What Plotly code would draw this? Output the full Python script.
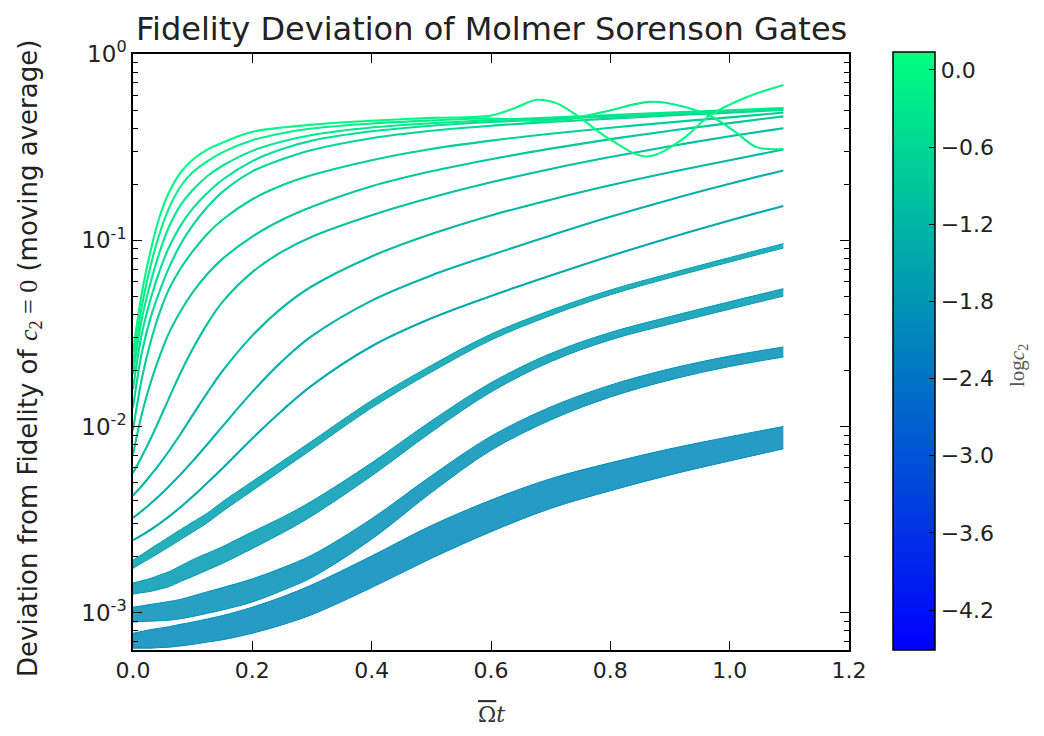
import plotly.graph_objects as go
from plotly.colors import sample_colorscale

# ---------------- data ----------------
# x positions (Omega-bar t) shared by the curves
omega_t = [0, 0.015, 0.03, 0.045, 0.06, 0.08, 0.1, 0.125, 0.15, 0.2, 0.25, 0.3,
           0.4, 0.5, 0.6, 0.7, 0.8, 0.9, 1.0, 1.09]

# colour value of each curve (log c2), bottom curve first
log_c2 = [-2.0, -1.857, -1.714, -1.571, -1.429, -1.286, -1.143, -1.0,
          -0.857, -0.714, -0.571, -0.429, -0.286, -0.143, 0.0]

# log10 of the deviation for each curve on omega_t
dev_c1 = [-3.15, -3.145, -3.14, -3.135, -3.13, -3.12, -3.11, -3.095, -3.08, -3.04, -2.99, -2.93, -2.78, -2.62, -2.48, -2.36, -2.27, -2.19, -2.12, -2.06]
dev_c2 = [-3.01, -3.005, -3.00, -2.995, -2.99, -2.98, -2.965, -2.945, -2.925, -2.88, -2.82, -2.75, -2.55, -2.31, -2.09, -1.93, -1.81, -1.72, -1.65, -1.60]
dev_c3 = [-2.87, -2.86, -2.85, -2.835, -2.82, -2.79, -2.76, -2.725, -2.69, -2.61, -2.53, -2.44, -2.23, -2.00, -1.79, -1.63, -1.515, -1.43, -1.35, -1.28]
dev_c4 = [-2.74, -2.71, -2.68, -2.65, -2.62, -2.58, -2.54, -2.49, -2.43, -2.32, -2.21, -2.10, -1.88, -1.69, -1.52, -1.39, -1.28, -1.19, -1.105, -1.03]
dev_c5 = [-2.61, -2.583, -2.553, -2.52, -2.484, -2.432, -2.376, -2.301, -2.224, -2.064, -1.914, -1.779, -1.569, -1.419, -1.299, -1.189, -1.084, -0.986, -0.894, -0.816]
dev_c6 = [-2.49, -2.453, -2.412, -2.369, -2.322, -2.256, -2.186, -2.094, -1.999, -1.814, -1.649, -1.514, -1.324, -1.189, -1.079, -0.974, -0.874, -0.782, -0.697, -0.625]
dev_c7 = [-2.37, -2.318, -2.26, -2.199, -2.133, -2.039, -1.939, -1.817, -1.702, -1.512, -1.362, -1.247, -1.087, -0.967, -0.867, -0.782, -0.705, -0.635, -0.57, -0.513]
dev_c8 = [-2.25, -2.16, -2.063, -1.958, -1.85, -1.71, -1.584, -1.446, -1.331, -1.171, -1.061, -0.981, -0.866, -0.771, -0.689, -0.617, -0.553, -0.495, -0.442, -0.399]
dev_c9 = [-2.15, -1.93, -1.76, -1.62, -1.50, -1.38, -1.28, -1.18, -1.10, -0.98, -0.89, -0.82, -0.71, -0.63, -0.565, -0.508, -0.457, -0.412, -0.371, -0.335]
dev_c10 = [-2.02, -1.74, -1.54, -1.385, -1.265, -1.15, -1.06, -0.965, -0.89, -0.78, -0.705, -0.65, -0.57, -0.51, -0.465, -0.428, -0.396, -0.367, -0.34, -0.315]
dev_c11 = [-1.90, -1.60, -1.41, -1.27, -1.15, -1.02, -0.92, -0.82, -0.74, -0.63, -0.565, -0.515, -0.452, -0.412, -0.385, -0.365, -0.347, -0.33, -0.315, -0.30]
dev_c12 = [-1.80, -1.50, -1.31, -1.16, -1.04, -0.92, -0.83, -0.745, -0.675, -0.575, -0.51, -0.465, -0.415, -0.385, -0.365, -0.35, -0.336, -0.322, -0.309, -0.296]
dev_c13 = [-1.72, -1.42, -1.22, -1.06, -0.93, -0.81, -0.73, -0.655, -0.60, -0.52, -0.47, -0.435, -0.395, -0.372, -0.355, -0.341, -0.328, -0.315, -0.302, -0.29]

# the two oscillating top curves: same samples up to 0.6, then their own
omega_t_c14 = omega_t[:15] + [0.68, 0.73, 0.79, 0.866, 0.92, 0.97, 1.01, 1.045, 1.09]
dev_c14 = [-1.66, -1.35, -1.13, -0.96, -0.83, -0.71, -0.635, -0.575, -0.528, -0.463, -0.425, -0.40, -0.373, -0.357, -0.346,
           -0.36, -0.35, -0.31, -0.257, -0.28, -0.337, -0.42, -0.50, -0.51]
omega_t_c15 = omega_t[:15] + [0.64, 0.677, 0.71, 0.744, 0.8, 0.861, 0.92, 0.967, 1.03, 1.09]
dev_c15 = [-1.60, -1.28, -1.05, -0.87, -0.745, -0.635, -0.568, -0.512, -0.476, -0.418, -0.395, -0.379, -0.358, -0.343, -0.33,
           -0.29, -0.246, -0.265, -0.33, -0.46, -0.55, -0.46, -0.33, -0.23, -0.166]

# half-width (decades) of the fast-oscillation band of the lowest curves
band_c1 = [0.04, 0.045, 0.05, 0.052, 0.055, 0.058, 0.06, 0.062, 0.065, 0.07, 0.075, 0.08, 0.085, 0.088, 0.085, 0.08, 0.075, 0.07, 0.065, 0.06]
band_c2 = [0.04, 0.042, 0.045, 0.048, 0.05, 0.052, 0.055, 0.058, 0.06, 0.062, 0.061, 0.06, 0.055, 0.045, 0.038, 0.035, 0.032, 0.03, 0.028, 0.027]
band_c3 = [0.03, 0.032, 0.035, 0.038, 0.04, 0.042, 0.045, 0.045, 0.045, 0.045, 0.042, 0.04, 0.035, 0.03, 0.025, 0.022, 0.02, 0.02, 0.02, 0.02]
band_c4 = [0.022, 0.023, 0.025, 0.026, 0.027, 0.027, 0.027, 0.026, 0.026, 0.025, 0.023, 0.022, 0.02, 0.018, 0.016, 0.014, 0.013, 0.012, 0.012, 0.012]

cbar_ticks = [0.0, -0.6, -1.2, -1.8, -2.4, -3.0, -3.6, -4.2]
x_ticks = [0.0, 0.2, 0.4, 0.6, 0.8, 1.0, 1.2]
y_ticks = [1, 0.1, 0.01, 0.001]
y_tick_text = ["10<sup>0</sup>", "10<sup>-1</sup>", "10<sup>-2</sup>", "10<sup>-3</sup>"]

# ---------------- figure ----------------
WINTER = [[0.0, "rgb(0,0,255)"], [1.0, "rgb(0,255,128)"]]
CMIN, CMAX = -4.51, 0.14

curves = [
    (omega_t, dev_c1, band_c1), (omega_t, dev_c2, band_c2), (omega_t, dev_c3, band_c3),
    (omega_t, dev_c4, band_c4), (omega_t, dev_c5, None), (omega_t, dev_c6, None),
    (omega_t, dev_c7, None), (omega_t, dev_c8, None), (omega_t, dev_c9, None),
    (omega_t, dev_c10, None), (omega_t, dev_c11, None), (omega_t, dev_c12, None),
    (omega_t, dev_c13, None), (omega_t_c14, dev_c14, None), (omega_t_c15, dev_c15, None),
]

fig = go.Figure()
for (xs, ls, band), c in zip(curves, log_c2):
    col = sample_colorscale(WINTER, [(c - CMIN) / (CMAX - CMIN)])[0]
    if band is not None:
        hi = [10 ** (l + b) for l, b in zip(ls, band)]
        lo = [10 ** (l - b) for l, b in zip(ls, band)]
        fig.add_trace(go.Scatter(x=xs, y=hi, mode="lines", line=dict(color=col, width=1, shape="spline"),
                                 showlegend=False, hoverinfo="skip"))
        fig.add_trace(go.Scatter(x=xs, y=lo, mode="lines", line=dict(color=col, width=1, shape="spline"),
                                 fill="tonexty", fillcolor=col.replace("rgb", "rgba").replace(")", ",0.85)"),
                                 showlegend=False, hoverinfo="skip"))
    else:
        fig.add_trace(go.Scatter(x=xs, y=[10 ** l for l in ls], mode="lines",
                                 line=dict(color=col, width=2.1, shape="spline", smoothing=1.0),
                                 showlegend=False))

# colour bar
fig.add_trace(go.Scatter(
    x=[None], y=[None], mode="markers", showlegend=False,
    marker=dict(color=[0], colorscale=WINTER, cmin=CMIN, cmax=CMAX, showscale=True,
                colorbar=dict(x=1.0615, xanchor="left", xpad=0, y=0.5017, yanchor="middle", ypad=0,
                              lenmode="pixels", len=598, thicknessmode="pixels", thickness=42,
                              outlinewidth=1.5, outlinecolor="black",
                              tickvals=cbar_ticks,
                              ticktext=[f"{v:.1f}".replace("-", "−") for v in cbar_ticks],
                              ticks="inside", ticklen=6, tickcolor="black",
                              tickfont=dict(family="DejaVu Sans", size=22, color="#222"))),
))

AX = dict(showline=True, linecolor="black", linewidth=1.5, mirror="ticks", ticks="inside",
          ticklen=9, tickwidth=1, tickcolor="black", showgrid=False, zeroline=False)

fig.update_xaxes(range=[0, 1.2], tickvals=x_ticks, ticktext=[f"{v:.1f}" for v in x_ticks],
                 tickfont=dict(family="DejaVu Sans", size=22, color="#222"), **AX)
minor_vals = [m * 10 ** e for e in (-4, -3, -2, -1) for m in range(2, 10)]
fig.update_yaxes(type="log", range=[-3.2, 0], tickvals=y_ticks, ticktext=y_tick_text,
                 tickfont=dict(family="DejaVu Sans", size=23, color="#222"),
                 minor=dict(tickvals=minor_vals, ticks="inside", ticklen=5, tickcolor="black"), **AX)

fig.update_layout(
    width=1044, height=736, paper_bgcolor="white", plot_bgcolor="white",
    margin=dict(l=133, r=195, t=54, b=86),
    annotations=[
        dict(text="Fidelity Deviation of Molmer Sorenson Gates", xref="paper", yref="paper",
             x=0.5, y=1.0, xanchor="center", yanchor="bottom", yshift=4, showarrow=False,
             font=dict(family="DejaVu Sans", size=32, color="#222")),
        dict(text="Deviation from Fidelity of <span style='font-family:Liberation Serif'><i>c</i><sub>2</sub> = 0</span> (moving average)",
             xref="paper", yref="paper", x=-0.1439, y=0.49, xanchor="center", yanchor="middle",
             textangle=-90, showarrow=False,
             font=dict(family="DejaVu Sans", size=26, color="#222")),
        dict(text="<span style='text-decoration:overline'>Ω</span><i>t</i>", xref="paper", yref="paper",
             x=0.5, y=-0.109, xanchor="center", yanchor="middle", showarrow=False,
             font=dict(family="DejaVu Serif", size=22, color="#333")),
        dict(text="log<i>c</i><sub>2</sub>", xref="paper", yref="paper", x=1.236, y=0.478,
             xanchor="center", yanchor="middle", textangle=-90, showarrow=False,
             font=dict(family="Liberation Serif", size=21, color="#555")),
    ],
)

fig.write_html("out.html", config={"displayModeBar": False},
               post_script="document.body.style.margin='0';")
